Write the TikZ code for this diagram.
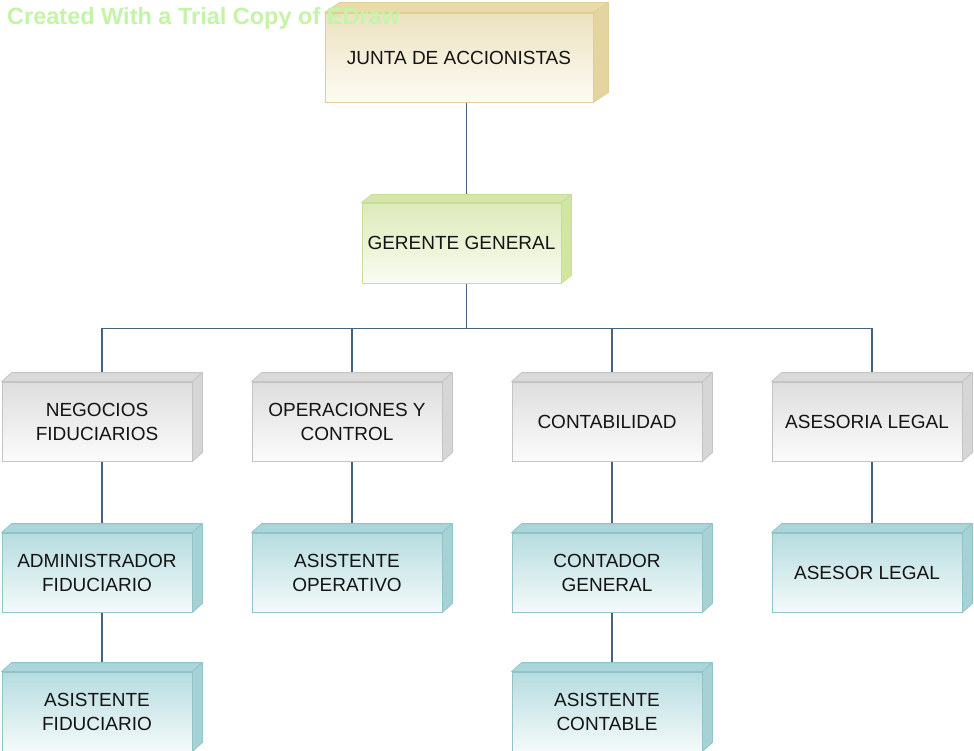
\documentclass[tikz,border=0pt]{standalone}
\usepackage{fontspec}
\setmainfont{Liberation Sans}
\pgfdeclarelayer{background}
\pgfsetlayers{background,main}

% colour families: front (top/bottom of gradient), top face, side face, outline
\definecolor{sandfront}{RGB}{236,226,192}
\definecolor{sandbottom}{RGB}{253,251,243}
\definecolor{sandtop}{RGB}{233,219,170}
\definecolor{sandside}{RGB}{228,212,160}
\definecolor{sandline}{RGB}{222,206,156}

\definecolor{leaffront}{RGB}{221,234,186}
\definecolor{leafbottom}{RGB}{249,252,240}
\definecolor{leaftop}{RGB}{214,230,170}
\definecolor{leafside}{RGB}{210,230,162}
\definecolor{leafline}{RGB}{200,222,152}

\definecolor{greyfront}{RGB}{222,222,222}
\definecolor{greybottom}{RGB}{251,251,251}
\definecolor{greytop}{RGB}{218,218,218}
\definecolor{greyside}{RGB}{214,214,214}
\definecolor{greyline}{RGB}{196,196,196}

\definecolor{tealfront}{RGB}{182,220,224}
\definecolor{tealbottom}{RGB}{244,250,250}
\definecolor{tealtop}{RGB}{170,213,217}
\definecolor{tealside}{RGB}{166,210,214}
\definecolor{tealline}{RGB}{144,196,200}

\definecolor{connline}{RGB}{70,98,124}
\definecolor{labeltext}{RGB}{20,20,20}
\definecolor{trialmark}{RGB}{196,244,166}

% top and right faces of an extruded box: node, dx, dy, colour family
\newcommand\boxdepth[4]{%
  \filldraw[fill=#4top, draw=#4line, line width=0.8pt, line join=round]
    (#1.north west) -- ++(#2,-#3) -- ([shift={(#2,-#3)}]#1.north east)
    -- (#1.north east) -- cycle;
  \filldraw[fill=#4side, draw=#4line, line width=0.8pt, line join=round]
    (#1.north east) -- ++(#2,-#3) -- ([shift={(#2,-#3)}]#1.south east)
    -- (#1.south east) -- cycle;
}

\begin{document}
\begin{tikzpicture}[x=1pt,y=-1pt,
  frontbox/.style={rectangle, inner sep=0pt, minimum width=190pt,
    minimum height=79pt, align=center, line width=0.8pt,
    font=\fontsize{19}{24}\selectfont, text=labeltext},
  sandbox/.style={frontbox, draw=sandline, top color=sandfront, bottom color=sandbottom},
  leafbox/.style={frontbox, draw=leafline, top color=leaffront, bottom color=leafbottom},
  greybox/.style={frontbox, draw=greyline, top color=greyfront, bottom color=greybottom},
  tealbox/.style={frontbox, draw=tealline, top color=tealfront, bottom color=tealbottom},
  conn/.style={draw=connline, line width=1.6pt}]

\useasboundingbox (0,0) rectangle (974,751);

% top levels
\node[sandbox, minimum width=268pt, minimum height=89pt] (jun) at (459,57.5) {JUNTA DE ACCIONISTAS};
\node[leafbox, minimum width=199pt, minimum height=80pt] (ger) at (461.5,243) {GERENTE GENERAL};

% departments
\node[greybox] (neg) at (97,421.5)  {NEGOCIOS\\FIDUCIARIOS};
\node[greybox] (ope) at (347,421.5) {OPERACIONES Y\\CONTROL};
\node[greybox] (con) at (607,421.5) {CONTABILIDAD};
\node[greybox] (ase) at (867,421.5) {ASESORIA LEGAL};

% staff
\node[tealbox] (adm) at (97,572.5)  {ADMINISTRADOR\\FIDUCIARIO};
\node[tealbox] (aso) at (347,572.5) {ASISTENTE\\OPERATIVO};
\node[tealbox] (cog) at (607,572.5) {CONTADOR\\GENERAL};
\node[tealbox] (asl) at (867,572.5) {ASESOR LEGAL};
\node[tealbox] (asf) at (97,711.5)  {ASISTENTE\\FIDUCIARIO};
\node[tealbox] (asc) at (607,711.5) {ASISTENTE\\CONTABLE};

% extruded faces
\boxdepth{jun}{15}{10}{sand}
\boxdepth{ger}{10}{8}{leaf}
\foreach \n in {neg,ope,con,ase} {\boxdepth{\n}{10}{9}{grey}}
\foreach \n in {adm,aso,cog,asl,asf,asc} {\boxdepth{\n}{10}{9}{teal}}

% white sheet and connectors, behind the boxes
\begin{pgfonlayer}{background}
  \fill[white] (0,0) rectangle (974,751);
  \draw[conn] ([xshift=5pt]ger.north) -- ([xshift=5pt]ger.north |- jun.south);
  \draw[conn] ([xshift=5pt]ger.south) -- ++(0,45) coordinate (bus);
  \draw[conn] ([xshift=5pt]neg.north) |- (bus) -| ([xshift=5pt]ase.north);
  \draw[conn] ([xshift=5pt]ope.north) -- ([xshift=5pt]ope.north |- bus);
  \draw[conn] ([xshift=5pt]con.north) -- ([xshift=5pt]con.north |- bus);
  \draw[conn] ([xshift=5pt]neg.south) -- ([xshift=5pt]adm.north);
  \draw[conn] ([xshift=5pt]adm.south) -- ([xshift=5pt]asf.north);
  \draw[conn] ([xshift=5pt]ope.south) -- ([xshift=5pt]aso.north);
  \draw[conn] ([xshift=5pt]con.south) -- ([xshift=5pt]cog.north);
  \draw[conn] ([xshift=5pt]cog.south) -- ([xshift=5pt]asc.north);
  \draw[conn] ([xshift=5pt]ase.south) -- ([xshift=5pt]asl.north);
\end{pgfonlayer}

% trial notice across the top
\node[anchor=base west, inner sep=0pt, text=trialmark,
  font=\fontsize{23.5}{28}\selectfont\bfseries] (trial) at (7,25)
  {Created With a Trial Copy of EDraw};
\end{tikzpicture}
\end{document}
